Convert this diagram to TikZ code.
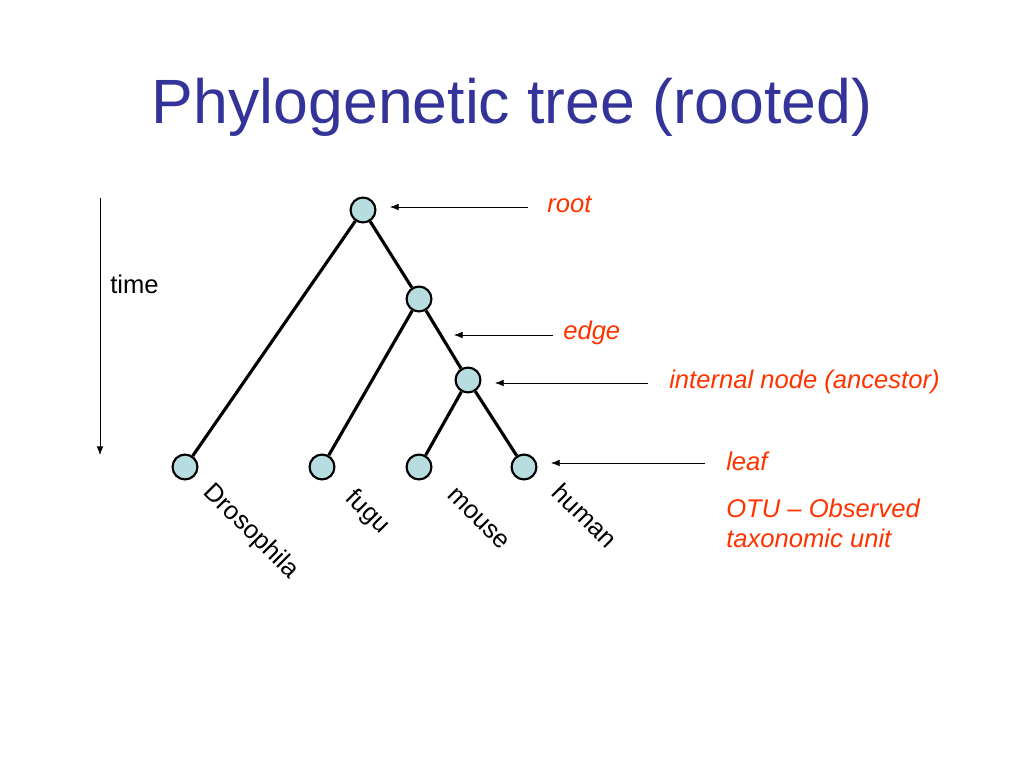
\documentclass[tikz,border=0pt]{standalone}
\usepackage{fontspec}
\setmainfont{Liberation Sans}
\usetikzlibrary{arrows.meta}
\definecolor{titleblue}{RGB}{51,51,153}
\definecolor{notered}{RGB}{255,51,0}
\definecolor{nodefill}{RGB}{183,221,224}

\begin{document}
\begin{tikzpicture}[x=0.703125pt,y=-0.703125pt,>={Latex[length=6pt,width=4.5pt]},
  treenode/.style={circle,draw,line width=1.5pt,fill=nodefill,minimum size=17.5pt,inner sep=0pt},
  treeedge/.style={line width=2.2pt},
  note/.style={color=notered,font=\fontsize{18}{21}\selectfont\itshape,anchor=base west,inner sep=0pt},
  leaflabel/.style={font=\fontsize{18}{21}\selectfont,rotate=-45,anchor=north west,inner sep=0pt}]
\useasboundingbox (0,0) rectangle (1024,768);
\node[color=titleblue,font=\fontsize{44}{52}\selectfont,anchor=base] (title) at (512,124) {Phylogenetic tree (rooted)};
% time axis
\coordinate (t0) at (100,198);
\coordinate (t1) at (100,455);
\draw [thin,->] (t0) -- (t1);
\node[font=\fontsize{18}{21}\selectfont,anchor=base west,inner sep=0pt] (time) at (110,293) {time};
% tree
\node[treenode] (root) at (363,210) {};
\node[treenode] (anc1) at (419,299) {};
\node[treenode] (anc2) at (468,380) {};
\node[treenode] (dros) at (185,467) {};
\node[treenode] (fugu) at (322,467) {};
\node[treenode] (mouse) at (419,467) {};
\node[treenode] (human) at (524,467) {};
\draw [treeedge] (root) -- (dros);
\draw [treeedge] (root) -- (anc1);
\draw [treeedge] (anc1) -- (fugu);
\draw [treeedge] (anc1) -- (anc2);
\draw [treeedge] (anc2) -- (mouse);
\draw [treeedge] (anc2) -- (human);
\node[leaflabel] (ldros) at (216,480) {Drosophila};
\node[leaflabel] (lfugu) at (358,486) {fugu};
\node[leaflabel] (lmouse) at (456,486) {mouse};
\node[leaflabel] (lhuman) at (564,481) {human};
% notes
\node[note] (nroot) at (547,213) {root};
\node[note] (nedge) at (563,340) {edge};
\node[note] (nanc) at (669,388) {internal node (ancestor)};
\node[note] (nleaf) at (726,470) {leaf};
\node[note] (notu) at (726,517) {OTU -- Observed};
\node[note] (ntax) at (726,547) {taxonomic unit};
\coordinate (a0) at (528,207);  \coordinate (a1) at (390,207);
\coordinate (b0) at (553,335);  \coordinate (b1) at (454,335);
\coordinate (c0) at (648,383);  \coordinate (c1) at (495,383);
\coordinate (d0) at (705,463);  \coordinate (d1) at (551,463);
\draw [thin,->] (a0) -- (a1);
\draw [thin,->] (b0) -- (b1);
\draw [thin,->] (c0) -- (c1);
\draw [thin,->] (d0) -- (d1);
\end{tikzpicture}
\end{document}
